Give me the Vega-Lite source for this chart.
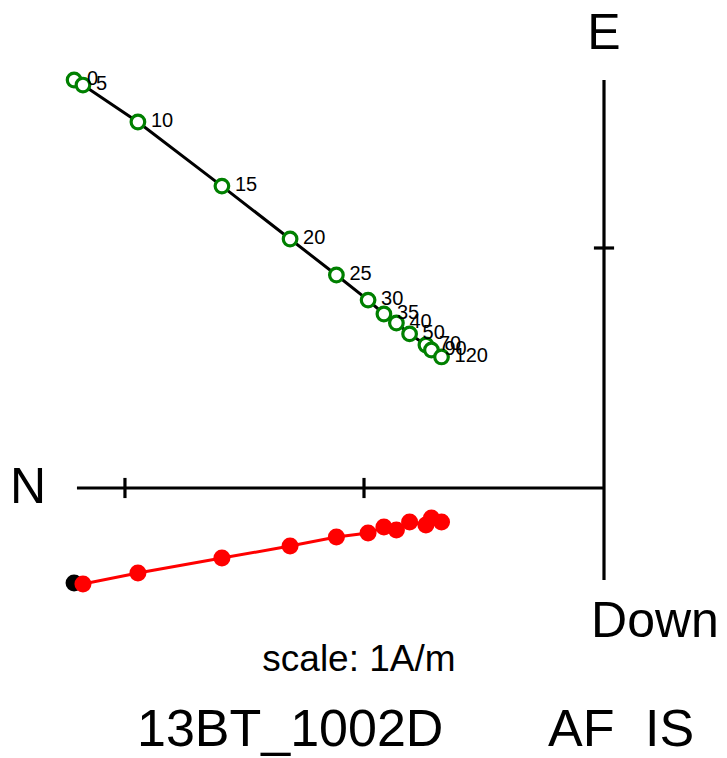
{
  "$schema": "https://vega.github.io/schema/vega-lite/v6.json",
  "width": 727,
  "height": 758,
  "autosize": {"type": "none"},
  "padding": 0,
  "background": "white",
  "config": {"view": {"stroke": null}, "font": "Liberation Sans"},
  "datasets": {
    "steps": [
      {"step": 0, "label": "0", "north": -2.208, "east": 1.700, "down": -0.396},
      {"step": 5, "label": "5", "north": -2.171, "east": 1.679, "down": -0.400},
      {"step": 10, "label": "10", "north": -1.942, "east": 1.525, "down": -0.354},
      {"step": 15, "label": "15", "north": -1.592, "east": 1.258, "down": -0.292},
      {"step": 20, "label": "20", "north": -1.308, "east": 1.0375, "down": -0.242},
      {"step": 25, "label": "25", "north": -1.115, "east": 0.8875, "down": -0.204},
      {"step": 30, "label": "30", "north": -0.983, "east": 0.783, "down": -0.1875},
      {"step": 35, "label": "35", "north": -0.917, "east": 0.725, "down": -0.1625},
      {"step": 40, "label": "40", "north": -0.865, "east": 0.6875, "down": -0.175},
      {"step": 50, "label": "50", "north": -0.810, "east": 0.642, "down": -0.142},
      {"step": 70, "label": "70", "north": -0.742, "east": 0.596, "down": -0.154},
      {"step": 90, "label": "90", "north": -0.719, "east": 0.575, "down": -0.125},
      {"step": 120, "label": "120", "north": -0.677, "east": 0.546, "down": -0.142}
    ],
    "one": [{}]
  },
  "encoding": {
    "x": {"type": "quantitative", "scale": {"domain": [-2.51667, 0.5125], "nice": false, "zero": false}, "axis": null},
    "y": {"type": "quantitative", "scale": {"domain": [-1.125, 2.03333], "nice": false, "zero": false}, "axis": null}
  },
  "layer": [
    {"data": {"name": "one"}, "mark": {"type": "rule", "color": "black", "strokeWidth": 3.2}, "encoding": {"x": {"datum": -2.196}, "x2": {"datum": 0}, "y": {"datum": 0}}},
    {"data": {"name": "one"}, "mark": {"type": "rule", "color": "black", "strokeWidth": 3.2}, "encoding": {"x": {"datum": 0}, "y": {"datum": 1.7}, "y2": {"datum": -0.383}}},
    {"data": {"name": "one"}, "mark": {"type": "rule", "color": "black", "strokeWidth": 3.2}, "encoding": {"x": {"datum": -1}, "y": {"datum": 0.042}, "y2": {"datum": -0.042}}},
    {"data": {"name": "one"}, "mark": {"type": "rule", "color": "black", "strokeWidth": 3.2}, "encoding": {"x": {"datum": -1.996}, "y": {"datum": 0.042}, "y2": {"datum": -0.042}}},
    {"data": {"name": "one"}, "mark": {"type": "rule", "color": "black", "strokeWidth": 3.2}, "encoding": {"y": {"datum": 1}, "x": {"datum": -0.042}, "x2": {"datum": 0.042}}},
    {
      "data": {"name": "steps"},
      "mark": {"type": "line", "color": "black", "strokeWidth": 3},
      "encoding": {"x": {"field": "north"}, "y": {"field": "east"}, "order": {"field": "step"}}
    },
    {
      "data": {"name": "steps"},
      "mark": {"type": "line", "color": "#ff0000", "strokeWidth": 3},
      "encoding": {"x": {"field": "north"}, "y": {"field": "down"}, "order": {"field": "step"}}
    },
    {
      "data": {"name": "steps"},
      "mark": {"type": "point", "shape": "circle", "filled": false, "fill": "white", "fillOpacity": 1, "stroke": "#008000", "strokeWidth": 3.2, "size": 185, "opacity": 1},
      "encoding": {"x": {"field": "north"}, "y": {"field": "east"}, "order": {"field": "step"}}
    },
    {
      "data": {"name": "steps"},
      "mark": {"type": "circle", "size": 290, "opacity": 1},
      "encoding": {
        "x": {"field": "north"}, "y": {"field": "down"}, "order": {"field": "step"},
        "color": {"condition": {"test": "datum.step == 0", "value": "black"}, "value": "#ff0000"}
      }
    },
    {
      "data": {"name": "steps"},
      "mark": {"type": "text", "align": "left", "baseline": "middle", "dx": 13, "dy": -1, "fontSize": 20, "color": "black"},
      "encoding": {"x": {"field": "north"}, "y": {"field": "east"}, "text": {"field": "label"}}
    },
    {"data": {"name": "one"}, "mark": {"type": "text", "align": "center", "baseline": "middle", "fontSize": 50, "color": "black"}, "encoding": {"x": {"datum": -2.4}, "y": {"datum": 0.0}, "text": {"value": "N"}}},
    {"data": {"name": "one"}, "mark": {"type": "text", "align": "center", "baseline": "middle", "fontSize": 50, "color": "black"}, "encoding": {"x": {"datum": 0.0}, "y": {"datum": 1.892}, "text": {"value": "E"}}},
    {"data": {"name": "one"}, "mark": {"type": "text", "align": "left", "baseline": "middle", "fontSize": 50, "color": "black"}, "encoding": {"x": {"datum": -0.054}, "y": {"datum": -0.558}, "text": {"value": "Down"}}},
    {"data": {"name": "one"}, "mark": {"type": "text", "align": "center", "baseline": "middle", "fontSize": 37, "color": "black"}, "encoding": {"x": {"datum": -1.021}, "y": {"datum": -0.717}, "text": {"value": "scale: 1A/m"}}},
    {"data": {"name": "one"}, "mark": {"type": "text", "align": "left", "baseline": "middle", "fontSize": 52, "color": "black"}, "encoding": {"x": {"datum": -1.946}, "y": {"datum": -1.008}, "text": {"value": "13BT_1002D"}}},
    {"data": {"name": "one"}, "mark": {"type": "text", "align": "left", "baseline": "middle", "fontSize": 52, "color": "black"}, "encoding": {"x": {"datum": -0.233}, "y": {"datum": -1.008}, "text": {"value": "AF"}}},
    {"data": {"name": "one"}, "mark": {"type": "text", "align": "left", "baseline": "middle", "fontSize": 52, "color": "black"}, "encoding": {"x": {"datum": 0.171}, "y": {"datum": -1.008}, "text": {"value": "IS"}}}
  ]
}
